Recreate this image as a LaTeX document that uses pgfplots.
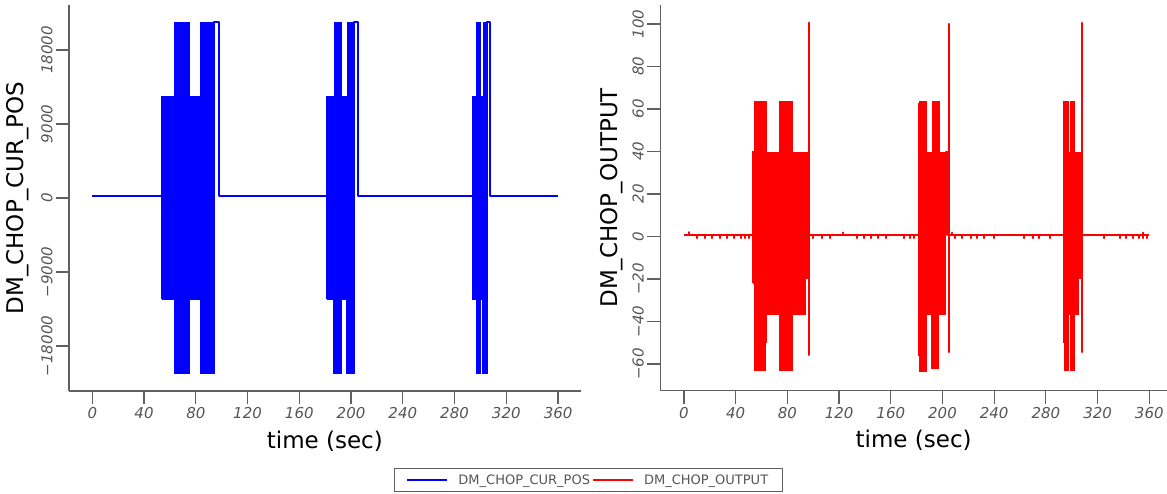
\documentclass[border=0pt]{standalone}
\usepackage{fontspec}
\setmainfont{DejaVu Sans}
\usepackage{pgfplots}
\pgfplotsset{compat=1.18}
\definecolor{axgray}{RGB}{96,96,96}
\definecolor{lblgray}{RGB}{85,85,85}
\definecolor{pblue}{RGB}{0,0,255}
\definecolor{pred}{RGB}{255,0,0}

\pgfplotsset{
  mystyle/.style={
    scale only axis,
    axis lines=left,
    axis line style={axgray, line width=1.2pt, -},
    every outer x axis line/.append style={-},
    every outer y axis line/.append style={-},
    tick style={axgray, line width=1.2pt},
    tick align=outside,
    major tick length=13pt,
    scaled x ticks=false,
    scaled y ticks=false,
    xtick={0,40,...,360},
    xticklabels={0,40,80,120,160,200,240,280,320,360},
    ticklabel style={font=\fontsize{15}{18}\selectfont\itshape, text=lblgray},
    yticklabel style={rotate=90, anchor=south},
    xticklabel style={anchor=north},
    label style={font=\fontsize{23}{27}\selectfont},
    xlabel={time (sec)},
    xlabel style={at={(axis description cs:0.5,-0.148)}, anchor=base},
    clip=false,
  }
}

\begin{document}
\begin{tikzpicture}
\useasboundingbox (0,0) rectangle (1167pt,493pt);

% ---------------- left axis ----------------
\begin{axis}[mystyle,
  at={(69pt,102pt)}, anchor=south west,
  width=511.7pt, height=386pt,
  xmin=-18, xmax=377.5,
  ymin=-23470, ymax=23470,
  ytick={-18000,-9000,0,9000,18000},
  yticklabels={−18000,−9000,0,9000,18000},
  ylabel={DM\_CHOP\_CUR\_POS},
  ylabel style={at={(axis description cs:-0.100,0.5)}, anchor=center, rotate=0},
  legend columns=2,
  legend style={at={(axis description cs:1.0149,-0.200)}, anchor=north,
    draw=axgray, line width=1pt,
    inner xsep=12pt, inner ysep=4pt,
    font=\fontsize{13}{15}\selectfont,
    nodes={text=lblgray},
    /tikz/every odd column/.append style={column sep=8pt},
    /tikz/every even column/.append style={column sep=0pt}},
  legend image code/.code={\draw[#1] (0pt,0pt) -- (40pt,0pt);},
]
\addplot[pblue, line width=2pt, line join=round] coordinates {
 (0,200) (53.6,200) (94.1,200) (94.1,21400) (97.7,21400) (97.7,200)
 (181.2,200) (202.5,200) (202.5,21400) (205.6,21400) (205.6,200)
 (293.8,200) (305.3,200) (305.3,21400) (307.6,21400) (307.6,200) (360.2,200)
};
\addlegendentry{DM\_CHOP\_CUR\_POS}
\addlegendimage{pred, line width=2pt}
\addlegendentry{DM\_CHOP\_OUTPUT}

\addplot[pblue, fill=pblue, line width=1pt, forget plot] coordinates {
 (53.6,-12300) (53.6,12300) (63.9,12300) (63.9,21400) (75.0,21400) (75.0,12300)
 (84.0,12300) (84.0,21400) (94.3,21400) (94.3,-21400) (83.3,-21400) (83.3,-12300)
 (75.0,-12300) (75.0,-21400) (63.4,-21400) (63.4,-12300) (53.6,-12300)
};
\addplot[pblue, fill=pblue, line width=1pt, forget plot] coordinates {
 (181.2,-12300) (181.2,12300) (187.1,12300) (187.1,21400) (192.8,21400) (192.8,12300)
 (197.1,12300) (197.1,21400) (202.5,21400) (202.5,-21400) (196.7,-21400) (196.7,-12300)
 (192.8,-12300) (192.8,-21400) (186.3,-21400) (186.3,-12300) (181.2,-12300)
};
\addplot[pblue, fill=pblue, line width=1pt, forget plot] coordinates {
 (293.8,-12300) (293.8,12300) (296.6,12300) (296.6,21400) (299.7,21400) (299.7,12300)
 (302.0,12300) (302.0,21400) (305.3,21400) (305.3,-21400) (301.8,-21400) (301.8,-12300)
 (299.9,-12300) (299.9,-21400) (296.6,-21400) (296.6,-12300) (293.8,-12300)
};
\end{axis}

% ---------------- right axis ----------------
\begin{axis}[mystyle,
  at={(660.3pt,102.3pt)}, anchor=south west,
  width=506.7pt, height=385.7pt,
  xmin=-18.3, xmax=373.7,
  ymin=-72.6, ymax=108.9,
  ytick={-60,-40,-20,0,20,40,60,80,100},
  yticklabels={−60,−40,−20,0,20,40,60,80,100},
  ylabel={DM\_CHOP\_OUTPUT},
  ylabel style={at={(axis description cs:-0.095,0.5)}, anchor=center, rotate=0},
]
\addplot[pred, line width=2pt, line join=round] coordinates {
 (0,0.7) (3.9,0.7) (3.9,2.0) (3.9,0.7)
 (10,0.7) (10,-0.8) (10,0.7) (16,0.7) (16,-0.8) (16,0.7) (22,0.7) (22,-0.8) (22,0.7)
 (27.5,0.7) (27.5,-0.8) (27.5,0.7) (33,0.7) (33,-0.8) (33,0.7) (39,0.7) (39,-0.8) (39,0.7)
 (44,0.7) (44,-0.8) (44,0.7) (47.5,0.7) (47.5,-0.8) (47.5,0.7) (50.5,0.7) (50.5,-0.8) (50.5,0.7)
 (53.6,0.7) (95.3,0.7) (96.7,0.7) (96.7,100.6) (96.7,-55.8) (96.7,0.7)
 (100,0.7) (100,-0.8) (100,0.7) (107,0.7) (107,-0.8) (107,0.7) (113,0.7) (113,-0.8) (113,0.7)
 (123,0.7) (123,1.8) (123,0.7) (134,0.7) (134,-0.8) (134,0.7) (139,0.7) (139,-0.8) (139,0.7)
 (145,0.7) (145,-0.8) (145,0.7) (150,0.7) (150,-0.8) (150,0.7) (156,0.7) (156,-0.8) (156,0.7)
 (170,0.7) (170,-0.8) (170,0.7) (175,0.7) (175,-0.8) (175,0.7) (178,0.7) (178,-0.8) (178,0.7)
 (181.3,0.7) (202.5,0.7) (202.5,39.6) (204.3,39.6) (204.3,0.7)
 (205.0,0.7) (205.0,100.0) (205.0,-54.5) (205.0,0.7)
 (207.4,0.7) (207.4,1.8) (207.4,0.7) (210,0.7) (210,-0.8) (210,0.7) (215,0.7) (215,-0.8) (215,0.7)
 (222,0.7) (222,-0.8) (222,0.7) (227,0.7) (227,-0.8) (227,0.7) (232,0.7) (232,-0.8) (232,0.7)
 (240,0.7) (240,-0.8) (240,0.7) (263,0.7) (263,-0.8) (263,0.7) (270,0.7) (270,-0.8) (270,0.7)
 (275,0.7) (275,-0.8) (275,0.7) (283,0.7) (283,-0.8) (283,0.7)
 (294.0,0.7) (306.4,0.7) (307.7,0.7) (307.7,100.5) (307.7,-54.5) (307.7,0.7)
 (325,0.7) (325,-0.8) (325,0.7) (337,0.7) (337,-0.8) (337,0.7) (342,0.7) (342,-0.8) (342,0.7)
 (347,0.7) (347,-0.8) (347,0.7) (352,0.7) (352,-0.8) (352,0.7) (355,0.7) (355,1.8) (355,-0.8) (355,0.7)
 (358,0.7) (358,-0.8) (358,0.7) (360,0.7)
};
\addplot[pred, fill=pred, line width=1pt, forget plot] coordinates {
 (53.4,-22) (53.4,40) (54.4,40) (54.4,63.5) (64.0,63.5) (64.0,39.6) (73.8,39.6) (73.8,63.5)
 (84.1,63.5) (84.1,39.6) (95.3,39.6) (95.3,-20) (94.4,-20) (94.4,-36.9) (83.6,-36.9)
 (83.6,-63.3) (73.8,-63.3) (73.8,-36.9) (64.0,-36.9) (64.0,-50) (62.8,-50) (62.8,-63.3)
 (54.4,-63.3) (54.4,-22) (53.4,-22)
};
\addplot[pred, fill=pred, line width=1pt, forget plot] coordinates {
 (181.3,-56) (181.3,62.5) (182.1,62.5) (182.1,63.5) (187.8,63.5) (187.8,39.6) (192.1,39.6)
 (192.1,63.5) (197.5,63.5) (197.5,39.6) (202.5,39.6) (202.5,-36.9) (197.3,-36.9) (197.3,-62)
 (191.6,-62) (191.6,-36.9) (187.8,-36.9) (187.8,-63.6) (182.1,-63.6) (182.1,-56) (181.3,-56)
};
\addplot[pred, fill=pred, line width=1pt, forget plot] coordinates {
 (294.0,-50) (294.0,63.5) (297.6,63.5) (297.6,39.6) (299.4,39.6) (299.4,63.5) (302.0,63.5)
 (302.0,39.6) (306.4,39.6) (306.4,-20) (305.4,-20) (305.4,-36.9) (302.0,-36.9) (302.0,-63.3)
 (299.2,-63.3) (299.2,-36.9) (297.3,-36.9) (297.3,-63.3) (294.5,-63.3) (294.5,-50) (294.0,-50)
};
\end{axis}
\end{tikzpicture}
\end{document}
